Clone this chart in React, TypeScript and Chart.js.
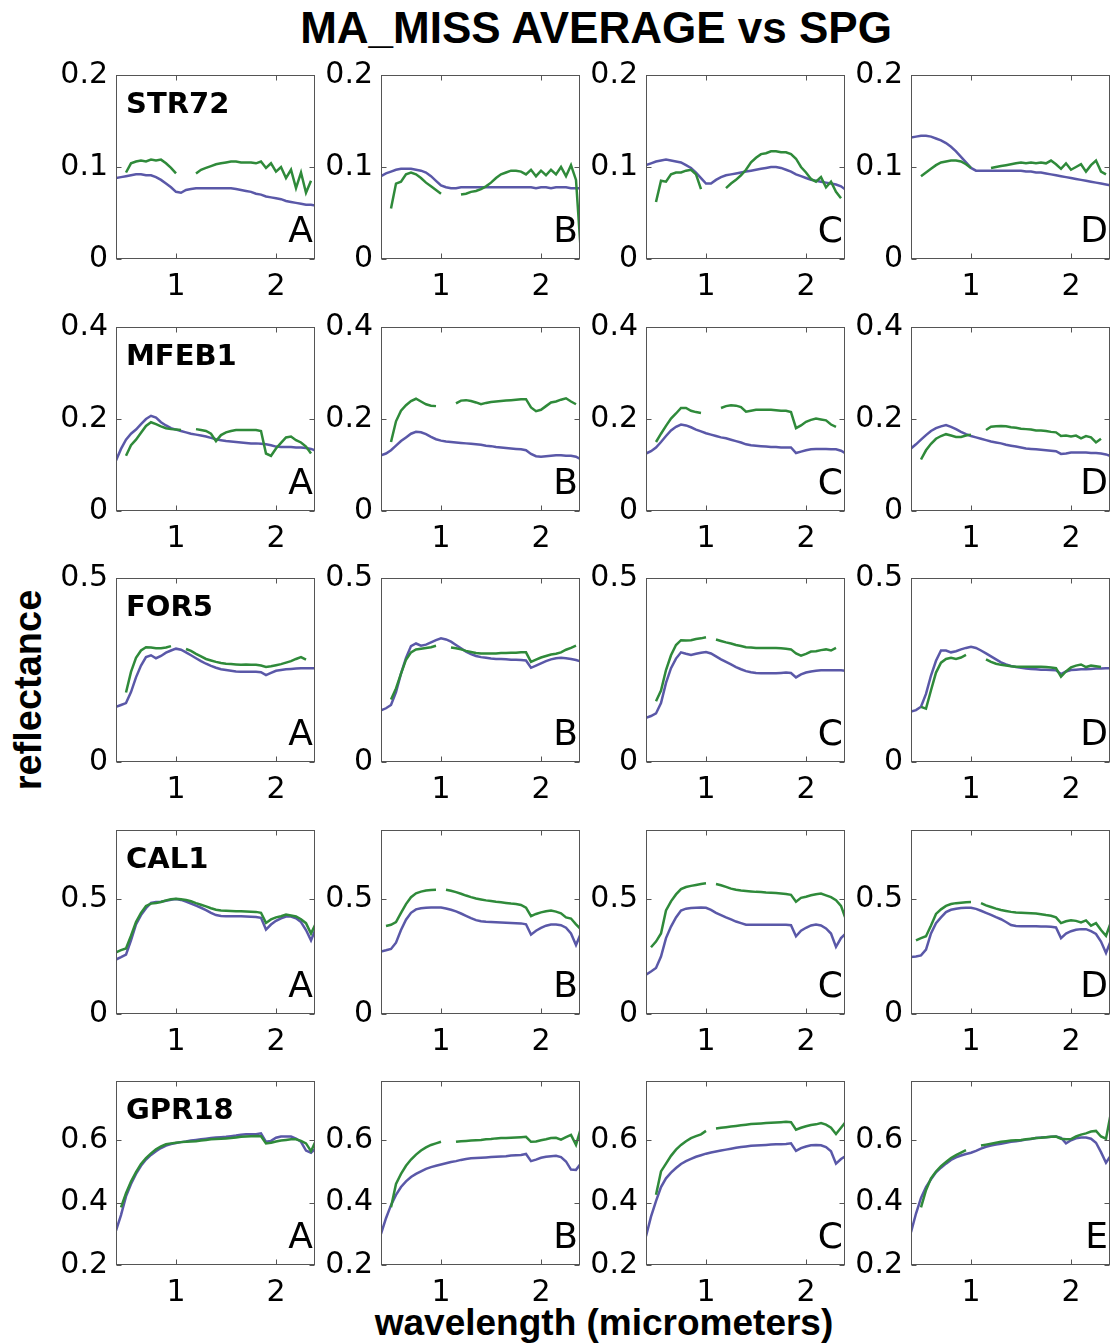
import React, { useEffect, useRef } from "react";
import { Chart, registerables } from "chart.js";

Chart.register(...registerables);

// ---------- DATA ----------
const WAVELENGTH = [
  0.40, 0.45, 0.50, 0.55, 0.60, 0.65, 0.70, 0.75, 0.80, 0.85,
  0.90, 0.95, 1.00, 1.05, 1.10, 1.15, 1.20, 1.25, 1.30, 1.35,
  1.40, 1.45, 1.50, 1.55, 1.60, 1.65, 1.70, 1.75, 1.80, 1.85,
  1.90, 1.95, 2.00, 2.05, 2.10, 2.15, 2.20, 2.25, 2.30, 2.35, 2.40,
];

const ROW_NAMES = ["STR72", "MFEB1", "FOR5", "CAL1", "GPR18"];
const PANEL_LETTERS = [
  ["A", "B", "C", "D"],
  ["A", "B", "C", "D"],
  ["A", "B", "C", "D"],
  ["A", "B", "C", "D"],
  ["A", "B", "C", "E"],
];
const Y_MIN = [0, 0, 0, 0, 0.2];
const Y_MAX = [0.2, 0.4, 0.5, 0.8, 0.79];
const Y_TICKS = [[0, 0.1, 0.2], [0, 0.2, 0.4], [0, 0.5], [0, 0.5], [0.2, 0.4, 0.6]];
const X_TICKS = [1, 2];
const X_MIN = 0.40;
const X_MAX = 2.39;

// STR72
const STR72_A_AVG = [0.088,0.089,0.090,0.091,0.092,0.092,0.091,0.091,0.089,0.086, 0.082,0.078,0.073,0.072,0.075,0.076,0.077,0.077,0.077,0.077, 0.077,0.077,0.077,0.077,0.076,0.075,0.074,0.073,0.071,0.070, 0.068,0.067,0.066,0.065,0.063,0.062,0.061,0.060,0.059,0.059,0.058];
const STR72_A_SPG = [null,null,0.094,0.104,0.106,0.107,0.106,0.108,0.107,0.108, 0.104,0.099,0.093,null,null,null,0.093,0.097,0.099,0.101, 0.103,0.104,0.105,0.106,0.106,0.105,0.105,0.105,0.104,0.106, 0.099,0.104,0.095,0.100,0.088,0.097,0.077,0.094,0.072,0.085,null];
const STR72_B_AVG = [0.090,0.093,0.095,0.097,0.098,0.098,0.098,0.097,0.096,0.094, 0.090,0.085,0.080,0.078,0.077,0.077,0.078,0.078,0.078,0.078, 0.078,0.078,0.078,0.078,0.078,0.078,0.078,0.078,0.078,0.078, 0.078,0.077,0.078,0.078,0.077,0.078,0.078,0.078,0.077,0.077,0.077];
const STR72_B_SPG = [null,null,0.055,0.082,0.084,0.092,0.094,0.092,0.088,0.083, 0.079,0.075,0.071,null,null,null,0.070,0.071,0.073,0.074, 0.076,0.079,0.083,0.088,0.092,0.094,0.096,0.096,0.095,0.092, 0.097,0.090,0.096,0.091,0.097,0.092,0.100,0.090,0.102,0.086,0.005];
const STR72_C_AVG = [0.102,0.104,0.106,0.107,0.108,0.107,0.106,0.105,0.102,0.099, 0.094,0.088,0.082,0.082,0.086,0.089,0.091,0.092,0.093,0.094, 0.095,0.096,0.097,0.098,0.099,0.100,0.100,0.099,0.097,0.095, 0.092,0.090,0.088,0.086,0.085,0.084,0.083,0.082,0.081,0.079,0.075];
const STR72_C_SPG = [null,null,0.062,0.085,0.084,0.092,0.094,0.094,0.096,0.097, 0.092,0.076,null,null,null,null,0.077,0.082,0.086,0.091, 0.097,0.105,0.110,0.114,0.115,0.117,0.117,0.116,0.116,0.114, 0.109,0.100,0.094,0.087,0.084,0.089,0.078,0.084,0.073,0.066,null];
const STR72_D_AVG = [0.132,0.133,0.134,0.134,0.133,0.131,0.129,0.126,0.122,0.117, 0.111,0.105,0.099,0.096,0.096,0.096,0.096,0.096,0.096,0.096, 0.096,0.096,0.096,0.095,0.095,0.094,0.094,0.093,0.092,0.091, 0.090,0.089,0.088,0.087,0.086,0.085,0.084,0.083,0.082,0.081,0.080];
const STR72_D_SPG = [null,null,0.090,0.094,0.098,0.102,0.105,0.106,0.107,0.107, 0.106,0.103,0.099,null,null,null,0.099,0.100,0.101,0.102, 0.103,0.104,0.105,0.104,0.105,0.104,0.105,0.104,0.107,0.103, 0.098,0.104,0.097,0.100,0.103,0.095,0.102,0.107,0.095,0.092,null];

// MFEB1
const MFEB1_A_AVG = [0.110,0.135,0.155,0.168,0.177,0.189,0.200,0.207,0.203,0.193, 0.186,0.180,0.177,0.174,0.171,0.168,0.166,0.164,0.162,0.159, 0.156,0.154,0.152,0.151,0.150,0.149,0.148,0.147,0.147,0.146, 0.145,0.143,0.140,0.139,0.139,0.139,0.138,0.138,0.137,0.135,0.131];
const MFEB1_A_SPG = [null,null,0.120,0.143,0.155,0.170,0.185,0.193,0.189,0.184, 0.180,0.178,0.177,0.176,null,null,0.178,0.176,0.174,0.168, 0.152,0.165,0.171,0.174,0.176,0.176,0.176,0.176,0.176,0.174, 0.125,0.120,0.136,0.148,0.160,0.162,0.154,0.149,0.140,0.125,null];
const MFEB1_B_AVG = [0.121,0.125,0.132,0.142,0.152,0.160,0.168,0.172,0.171,0.167, 0.161,0.156,0.153,0.151,0.150,0.149,0.148,0.147,0.146,0.145, 0.144,0.142,0.141,0.139,0.138,0.137,0.136,0.135,0.134,0.132, 0.124,0.119,0.118,0.119,0.120,0.121,0.121,0.120,0.120,0.118,0.112];
const MFEB1_B_SPG = [null,null,0.150,0.195,0.218,0.230,0.239,0.244,0.238,0.232, 0.229,0.228,null,null,null,0.234,0.240,0.241,0.239,0.236, 0.232,0.235,0.237,0.238,0.239,0.240,0.241,0.242,0.243,0.243, 0.225,0.217,0.220,0.228,0.236,0.238,0.242,0.245,0.238,0.232,null];
const MFEB1_C_AVG = [0.125,0.130,0.138,0.150,0.163,0.175,0.183,0.188,0.186,0.182, 0.177,0.173,0.169,0.166,0.163,0.160,0.158,0.155,0.152,0.149, 0.145,0.143,0.142,0.141,0.140,0.139,0.139,0.138,0.138,0.138, 0.126,0.129,0.132,0.134,0.135,0.135,0.135,0.134,0.134,0.131,0.125];
const MFEB1_C_SPG = [null,null,0.150,0.168,0.185,0.201,0.212,0.224,0.224,0.218, 0.215,0.213,null,null,null,0.224,0.228,0.230,0.229,0.226, 0.216,0.218,0.220,0.220,0.220,0.220,0.219,0.218,0.218,0.215, 0.180,0.186,0.194,0.198,0.201,0.199,0.197,0.188,0.183,null,null];
const MFEB1_D_AVG = [0.136,0.145,0.155,0.165,0.174,0.180,0.184,0.187,0.183,0.178, 0.172,0.167,0.163,0.160,0.157,0.154,0.151,0.149,0.147,0.144, 0.142,0.140,0.138,0.136,0.135,0.134,0.133,0.132,0.131,0.130, 0.124,0.125,0.127,0.127,0.127,0.127,0.126,0.126,0.125,0.123,0.119];
const MFEB1_D_SPG = [null,null,0.112,0.132,0.146,0.157,0.163,0.167,0.164,0.161, 0.161,0.164,0.166,null,null,0.176,0.183,0.184,0.185,0.184, 0.182,0.181,0.179,0.178,0.177,0.175,0.175,0.174,0.172,0.171, 0.163,0.164,0.162,0.164,0.158,0.163,0.160,0.149,0.157,null,null];

// FOR5
const FOR5_A_AVG = [0.150,0.155,0.160,0.190,0.230,0.262,0.285,0.290,0.282,0.288, 0.297,0.303,0.308,0.305,0.298,0.290,0.282,0.274,0.267,0.261, 0.256,0.252,0.250,0.248,0.246,0.245,0.245,0.245,0.245,0.244, 0.236,0.242,0.248,0.250,0.252,0.253,0.254,0.255,0.255,0.255,0.255];
const FOR5_A_SPG = [null,null,0.189,0.245,0.283,0.303,0.312,0.311,0.309,0.309, 0.311,0.315,null,null,0.307,0.302,0.294,0.287,0.280,0.276, 0.272,0.269,0.267,0.266,0.265,0.264,0.265,0.264,0.264,0.262, 0.258,0.260,0.263,0.266,0.270,0.274,0.280,0.285,0.278,null,null];
const FOR5_B_AVG = [0.140,0.146,0.155,0.190,0.240,0.283,0.315,0.322,0.316,0.319, 0.325,0.331,0.336,0.333,0.327,0.318,0.309,0.300,0.293,0.288, 0.285,0.283,0.281,0.280,0.280,0.279,0.278,0.278,0.277,0.276, 0.256,0.262,0.268,0.274,0.279,0.282,0.283,0.282,0.280,0.277,0.273];
const FOR5_B_SPG = [null,null,0.170,0.200,0.240,0.278,0.298,0.306,0.308,0.310, 0.312,0.316,null,null,0.311,0.309,0.306,0.302,0.299,0.296, 0.295,0.295,0.295,0.295,0.296,0.296,0.297,0.297,0.298,0.298, 0.272,0.278,0.284,0.288,0.292,0.294,0.298,0.305,0.310,0.316,null];
const FOR5_C_AVG = [0.120,0.125,0.132,0.160,0.215,0.255,0.281,0.298,0.294,0.291, 0.294,0.297,0.299,0.295,0.287,0.279,0.272,0.265,0.258,0.252, 0.247,0.244,0.242,0.241,0.241,0.241,0.241,0.242,0.243,0.242, 0.230,0.238,0.243,0.246,0.248,0.249,0.249,0.249,0.249,0.249,0.248];
const FOR5_C_SPG = [null,null,0.165,0.194,0.250,0.290,0.318,0.331,0.330,0.331, 0.334,0.336,0.339,null,0.333,0.329,0.325,0.322,0.318,0.315, 0.312,0.311,0.310,0.310,0.310,0.310,0.310,0.309,0.308,0.306, 0.295,0.289,0.294,0.300,0.301,0.304,0.306,0.303,0.310,null,null];
const FOR5_D_AVG = [0.137,0.141,0.150,0.185,0.235,0.275,0.303,0.303,0.298,0.301, 0.306,0.310,0.313,0.310,0.303,0.295,0.287,0.279,0.271,0.265, 0.261,0.258,0.256,0.254,0.253,0.252,0.251,0.251,0.250,0.249, 0.239,0.246,0.250,0.251,0.252,0.252,0.253,0.254,0.254,0.255,0.255];
const FOR5_D_SPG = [null,null,0.150,0.145,0.195,0.243,0.270,0.280,0.283,0.280, 0.284,0.291,null,null,null,0.279,0.272,0.267,0.264,0.262, 0.260,0.259,0.259,0.259,0.259,0.259,0.259,0.258,0.257,0.255, 0.232,0.246,0.257,0.262,0.265,0.258,0.262,0.260,0.258,null,null];

// CAL1
const CAL1_A_AVG = [0.237,0.247,0.258,0.320,0.390,0.430,0.460,0.483,0.487,0.488, 0.492,0.497,0.500,0.496,0.489,0.480,0.471,0.462,0.452,0.440, 0.430,0.426,0.425,0.425,0.425,0.425,0.424,0.423,0.422,0.418, 0.367,0.389,0.405,0.416,0.424,0.424,0.416,0.400,0.365,0.320,0.374];
const CAL1_A_SPG = [0.268,0.278,0.285,0.340,0.400,0.440,0.470,0.480,0.483,0.487, 0.494,0.499,0.501,0.499,0.496,0.490,0.482,0.475,0.468,0.460, 0.453,0.450,0.449,0.448,0.447,0.447,0.446,0.445,0.444,0.440, 0.396,0.411,0.420,0.425,0.432,0.428,0.424,0.412,0.395,0.350,0.396];
const CAL1_B_AVG = [0.272,0.277,0.283,0.310,0.365,0.410,0.440,0.455,0.460,0.462, 0.463,0.463,0.463,0.459,0.453,0.446,0.437,0.427,0.417,0.408, 0.403,0.401,0.400,0.399,0.398,0.397,0.396,0.395,0.394,0.390, 0.345,0.362,0.374,0.384,0.389,0.389,0.386,0.375,0.350,0.300,0.352];
const CAL1_B_SPG = [null,0.383,0.388,0.400,0.440,0.478,0.508,0.525,0.532,0.537, 0.539,0.540,null,0.540,0.536,0.530,0.523,0.515,0.508,0.502, 0.498,0.494,0.491,0.488,0.486,0.483,0.480,0.478,0.474,0.462, 0.425,0.435,0.442,0.447,0.450,0.445,0.438,0.420,0.415,0.390,0.368];
const CAL1_C_AVG = [0.171,0.185,0.200,0.250,0.330,0.380,0.420,0.450,0.458,0.461, 0.462,0.463,0.462,0.453,0.440,0.430,0.420,0.411,0.402,0.395, 0.388,0.388,0.388,0.388,0.388,0.388,0.388,0.388,0.388,0.386, 0.338,0.362,0.375,0.385,0.389,0.385,0.372,0.350,0.292,0.330,0.351];
const CAL1_C_SPG = [null,0.290,0.315,0.350,0.450,0.490,0.520,0.543,0.552,0.557, 0.561,0.565,0.568,null,0.565,0.560,0.553,0.545,0.540,0.537, 0.535,0.533,0.531,0.530,0.528,0.527,0.526,0.524,0.522,0.518, 0.488,0.505,0.510,0.516,0.521,0.524,0.516,0.508,0.495,0.470,0.410];
const CAL1_D_AVG = [0.248,0.250,0.255,0.280,0.350,0.395,0.420,0.443,0.453,0.458, 0.461,0.462,0.462,0.457,0.449,0.440,0.431,0.421,0.412,0.400, 0.387,0.383,0.382,0.381,0.381,0.381,0.380,0.380,0.379,0.376, 0.330,0.350,0.360,0.366,0.369,0.369,0.360,0.348,0.315,0.265,0.321];
const CAL1_D_SPG = [null,0.320,0.330,0.338,0.385,0.435,0.455,0.470,0.478,0.482, 0.484,0.486,0.487,null,0.482,0.472,0.465,0.458,0.452,0.448, 0.444,0.441,0.440,0.439,0.438,0.437,0.434,0.430,0.427,0.420, 0.395,0.403,0.408,0.405,0.398,0.407,0.384,0.395,0.365,0.340,0.400];

// GPR18
const GPR18_A_AVG = [0.310,0.360,0.420,0.460,0.492,0.518,0.538,0.553,0.565,0.575, 0.583,0.588,0.591,0.594,0.596,0.599,0.601,0.603,0.605,0.607, 0.609,0.610,0.611,0.613,0.615,0.618,0.619,0.619,0.619,0.622, 0.595,0.598,0.608,0.612,0.612,0.612,0.605,0.595,0.567,0.560,0.575];
const GPR18_A_SPG = [null,0.385,0.430,0.468,0.498,0.524,0.543,0.558,0.571,0.580, 0.587,0.590,0.592,0.594,0.595,0.596,0.597,0.599,0.601,0.603, 0.604,0.605,0.606,0.607,0.609,0.611,0.612,0.613,0.614,0.613, 0.590,0.592,0.596,0.599,0.601,0.603,0.603,0.598,0.590,0.565,0.600];
const GPR18_B_AVG = [0.300,0.350,0.392,0.425,0.450,0.468,0.482,0.492,0.500,0.508, 0.514,0.518,0.522,0.526,0.530,0.533,0.537,0.540,0.542,0.543, 0.544,0.545,0.546,0.547,0.548,0.549,0.551,0.552,0.553,0.556, 0.533,0.538,0.544,0.547,0.549,0.550,0.546,0.532,0.506,0.505,0.526];
const GPR18_B_SPG = [null,null,0.385,0.460,0.492,0.518,0.538,0.554,0.567,0.577, 0.585,0.590,0.595,null,null,0.595,0.597,0.598,0.599,0.600, 0.601,0.603,0.604,0.606,0.607,0.607,0.608,0.609,0.610,0.611, 0.595,0.596,0.600,0.603,0.607,0.608,0.602,0.610,0.617,0.585,0.640];
const GPR18_C_AVG = [0.292,0.355,0.405,0.450,0.478,0.496,0.511,0.524,0.533,0.540, 0.547,0.552,0.557,0.561,0.564,0.567,0.570,0.573,0.576,0.578, 0.580,0.582,0.583,0.584,0.585,0.586,0.587,0.587,0.588,0.590, 0.566,0.575,0.580,0.584,0.585,0.584,0.578,0.565,0.525,0.540,0.550];
const GPR18_C_SPG = [null,null,0.425,0.500,0.525,0.550,0.570,0.585,0.597,0.607, 0.613,0.619,0.630,null,0.638,0.640,0.642,0.644,0.646,0.648, 0.650,0.652,0.653,0.654,0.655,0.656,0.657,0.658,0.659,0.658, 0.634,0.640,0.645,0.649,0.651,0.655,0.650,0.640,0.620,0.640,0.660];
const GPR18_E_AVG = [0.305,0.365,0.415,0.450,0.475,0.497,0.512,0.525,0.537,0.545, 0.551,0.556,0.560,0.566,0.573,0.579,0.583,0.586,0.589,0.592, 0.595,0.597,0.599,0.602,0.604,0.607,0.609,0.610,0.611,0.612, 0.608,0.590,0.600,0.606,0.609,0.609,0.605,0.592,0.562,0.528,0.552];
const GPR18_E_SPG = [null,null,0.385,0.440,0.478,0.500,0.517,0.530,0.543,0.552, 0.560,0.568,null,null,0.583,0.586,0.589,0.592,0.595,0.597, 0.599,0.600,0.601,0.603,0.605,0.607,0.608,0.610,0.611,0.612, 0.605,0.603,0.604,0.612,0.618,0.622,0.628,0.630,0.612,0.605,0.690];

const AVG_SERIES = [
  [STR72_A_AVG, STR72_B_AVG, STR72_C_AVG, STR72_D_AVG],
  [MFEB1_A_AVG, MFEB1_B_AVG, MFEB1_C_AVG, MFEB1_D_AVG],
  [FOR5_A_AVG, FOR5_B_AVG, FOR5_C_AVG, FOR5_D_AVG],
  [CAL1_A_AVG, CAL1_B_AVG, CAL1_C_AVG, CAL1_D_AVG],
  [GPR18_A_AVG, GPR18_B_AVG, GPR18_C_AVG, GPR18_E_AVG],
];
const SPG_SERIES = [
  [STR72_A_SPG, STR72_B_SPG, STR72_C_SPG, STR72_D_SPG],
  [MFEB1_A_SPG, MFEB1_B_SPG, MFEB1_C_SPG, MFEB1_D_SPG],
  [FOR5_A_SPG, FOR5_B_SPG, FOR5_C_SPG, FOR5_D_SPG],
  [CAL1_A_SPG, CAL1_B_SPG, CAL1_C_SPG, CAL1_D_SPG],
  [GPR18_A_SPG, GPR18_B_SPG, GPR18_C_SPG, GPR18_E_SPG],
];

// ---------- LAYOUT / STYLE ----------
const COL_LEFT = [116, 381, 646, 911];
const ROW_TOP = [75, 327, 578, 830, 1081];
const PLOT_W = 199;
const PLOT_H = 184;
const PAD_L = 80;
const PAD_T = 26;
const PAD_R = 10;
const PAD_B = 52;
const AVG_COLOR = "#5a58a8";
const SPG_COLOR = "#2f8a3a";
const BOX_COLOR = "#555555";
const TICK_FONT = "DejaVu Sans";

const boxPlugin = {
  id: "matlabBox",
  afterDraw(chart: any) {
    const { ctx, chartArea: a, scales } = chart;
    const o = chart.options.plugins.matlabBox || {};
    ctx.save();
    ctx.strokeStyle = BOX_COLOR;
    ctx.lineWidth = 1;
    const l = Math.round(a.left) + 0.5;
    const t = Math.round(a.top) + 0.5;
    const r = Math.round(a.right) - 0.5;
    const b = Math.round(a.bottom) - 0.5;
    ctx.strokeRect(l, t, r - l, b - t);
    const TL = 5;
    ctx.beginPath();
    scales.x.ticks.forEach((tk: any) => {
      const x = Math.round(scales.x.getPixelForValue(tk.value)) + 0.5;
      ctx.moveTo(x, b); ctx.lineTo(x, b - TL);
      ctx.moveTo(x, t); ctx.lineTo(x, t + TL);
    });
    scales.y.ticks.forEach((tk: any) => {
      const y = Math.round(scales.y.getPixelForValue(tk.value)) + 0.5;
      ctx.moveTo(l, y); ctx.lineTo(l + TL, y);
      ctx.moveTo(r, y); ctx.lineTo(r - TL, y);
    });
    ctx.stroke();
    ctx.fillStyle = "#000";
    if (o.letter) {
      ctx.font = `36px "${TICK_FONT}"`;
      ctx.textAlign = "right";
      ctx.textBaseline = "alphabetic";
      ctx.fillText(o.letter, a.right - 2, a.bottom - 17);
    }
    if (o.name) {
      ctx.font = `bold 29px "${TICK_FONT}"`;
      ctx.textAlign = "left";
      ctx.textBaseline = "alphabetic";
      ctx.fillText(o.name, a.left + 10, a.top + 38);
    }
    ctx.restore();
  },
};

function Panel({ row, col }: { row: number; col: number }) {
  const ref = useRef<HTMLCanvasElement | null>(null);
  const W = PAD_L + PLOT_W + PAD_R;
  const H = PAD_T + PLOT_H + PAD_B;
  useEffect(() => {
    if (!ref.current) return;
    const avg = AVG_SERIES[row][col];
    const spg = SPG_SERIES[row][col];
    const chart = new Chart(ref.current, {
      type: "line",
      data: {
        datasets: [
          {
            label: "SPG",
            data: WAVELENGTH.map((w, i) => ({ x: w, y: spg[i] })),
            borderColor: SPG_COLOR,
            borderWidth: 2.5,
            pointRadius: 0,
            spanGaps: false,
            tension: 0,
            fill: false,
            order: 1,
          },
          {
            label: "MA_MISS AVERAGE",
            data: WAVELENGTH.map((w, i) => ({ x: w, y: avg[i] })),
            borderColor: AVG_COLOR,
            borderWidth: 2.5,
            pointRadius: 0,
            spanGaps: false,
            tension: 0,
            fill: false,
            order: 2,
          },
        ],
      },
      options: {
        animation: false,
        responsive: false,
        devicePixelRatio: 1,
        layout: { padding: { top: PAD_T, right: PAD_R, left: 0, bottom: 0 } },
        plugins: {
          legend: { display: false },
          tooltip: { enabled: false },
          title: { display: false },
          matlabBox: {
            letter: PANEL_LETTERS[row][col],
            name: col === 0 ? ROW_NAMES[row] : "",
          },
        } as any,
        scales: {
          x: {
            type: "linear",
            min: X_MIN,
            max: X_MAX,
            grid: { display: false, drawTicks: false },
            border: { display: false },
            afterBuildTicks: (s: any) => {
              s.ticks = X_TICKS.map((v) => ({ value: v }));
            },
            afterFit: (s: any) => {
              s.height = PAD_B;
            },
            ticks: {
              color: "#000",
              padding: 10,
              maxRotation: 0,
              font: { family: TICK_FONT, size: 30 },
              callback: (v: any) => String(v),
            },
          },
          y: {
            type: "linear",
            min: Y_MIN[row],
            max: Y_MAX[row],
            grid: { display: false, drawTicks: false },
            border: { display: false },
            afterBuildTicks: (s: any) => {
              s.ticks = Y_TICKS[row].map((v) => ({ value: v }));
            },
            afterFit: (s: any) => {
              s.width = PAD_L;
            },
            ticks: {
              color: "#000",
              padding: 8,
              font: { family: TICK_FONT, size: 30 },
              callback: (v: any) => String(v),
            },
          },
        },
      },
      plugins: [boxPlugin],
    } as any);
    return () => chart.destroy();
  }, [row, col]);
  return (
    <canvas
      ref={ref}
      width={W}
      height={H}
      style={{
        position: "absolute",
        left: COL_LEFT[col] - PAD_L,
        top: ROW_TOP[row] - PAD_T,
        width: W,
        height: H,
      }}
    />
  );
}

export default function App() {
  const panels: React.ReactNode[] = [];
  for (let r = 0; r < 5; r++) {
    for (let c = 0; c < 4; c++) {
      panels.push(<Panel key={`${r}-${c}`} row={r} col={c} />);
    }
  }
  return (
    <div
      style={{
        position: "absolute",
        left: 0,
        top: 0,
        width: 1112,
        height: 1344,
        background: "#fff",
        overflow: "hidden",
      }}
    >
      <div
        style={{
          position: "absolute",
          left: 596,
          top: 6,
          transform: "translateX(-50%)",
          font: 'bold 44px "Liberation Sans"',
          lineHeight: "44px",
          whiteSpace: "nowrap",
          color: "#000",
        }}
      >
        MA_MISS AVERAGE vs SPG
      </div>
      <div
        style={{
          position: "absolute",
          left: 28,
          top: 690,
          transform: "translate(-50%, -50%) rotate(-90deg)",
          font: 'bold 38px "Liberation Sans"',
          lineHeight: "38px",
          whiteSpace: "nowrap",
          color: "#000",
        }}
      >
        reflectance
      </div>
      <div
        style={{
          position: "absolute",
          left: 604,
          top: 1322,
          transform: "translate(-50%, -50%)",
          font: 'bold 37px "Liberation Sans"',
          lineHeight: "37px",
          whiteSpace: "nowrap",
          color: "#000",
        }}
      >
        wavelength (micrometers)
      </div>
      {panels}
    </div>
  );
}
